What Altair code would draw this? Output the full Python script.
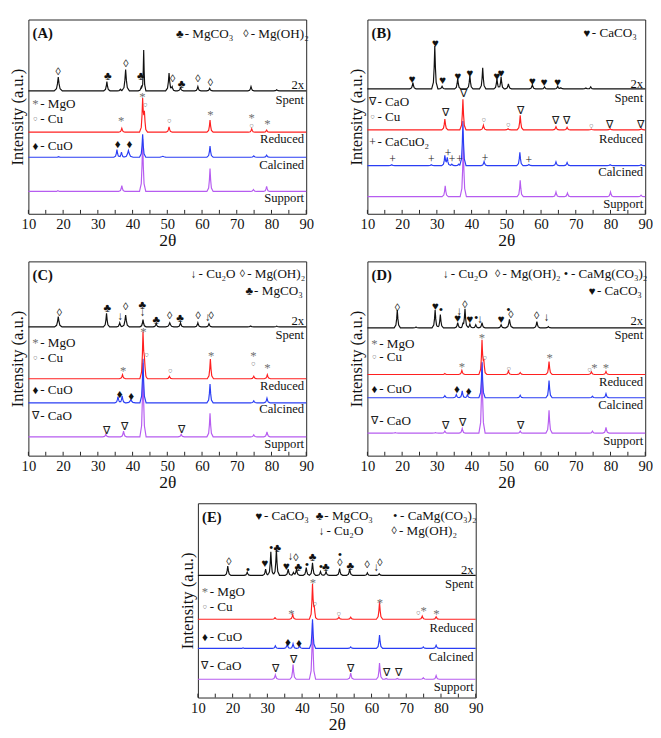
import altair as alt
import pandas as pd
import numpy as np

FONT = "Liberation Serif, Times New Roman, serif"
W, H = 286, 200

# ---------------- data: (2theta, height above baseline[, width factor]) ----------------
A_support_base = 11.5
A_support = [(18.5, 0.4), (36.9, 3.0), (42.9, 27.0), (62.3, 11.8), (74.8, 1.0), (78.6, 2.6)]
A_calcined_base = 29.1
A_calcined = [(18.7, 0.3), (35.5, 3.9), (36.8, 2.7), (38.8, 3.5, 1.5), (42.9, 11.8), (48.7, 0.5, 2),
              (62.3, 5.8), (74.9, 0.7), (78.6, 1.1)]
A_reduced_base = 42.0
A_reduced = [(36.9, 2.0), (42.9, 16.5), (43.4, 9.0), (50.5, 2.8), (62.3, 6.3), (74.3, 1.7), (78.6, 1.1)]
A_spent_base = 63.3
A_spent = [(18.6, 7.1, 1.3), (32.6, 4.7), (36.5, 0.8), (38.0, 11.0, 1.2), (42.5, 2.0), (43.2, 20.9, 0.7),
           (50.5, 9.1, 1.1), (51.4, 2.0), (53.8, 1.6), (58.8, 2.2), (62.2, 1.3), (74.1, 2.2), (81.5, 0.5)]

B_support_base = 8.8
B_support = [(32.4, 5.6), (37.6, 28.0), (54.0, 8.5), (64.3, 2.4), (67.6, 1.9), (80.0, 2.4), (88.8, 0.8)]
B_calcined_base = 24.8
B_calcined = [(17.0, 0.5), (28.4, 0.5), (32.3, 5.1), (33.0, 4.0), (34.3, 0.8), (36.3, 0.8), (37.5, 23.0),
              (43.6, 2.1), (53.9, 6.9), (56.5, 0.6), (64.3, 1.9), (67.5, 1.6), (79.9, 0.5), (88.8, 0.5)]
B_reduced_base = 43.2
B_reduced = [(32.3, 5.6), (37.5, 15.7), (43.4, 2.4), (50.5, 0.6), (54.0, 7.5), (64.3, 1.6), (67.5, 1.3),
             (74.5, 0.4), (79.9, 0.6), (88.9, 0.6)]
B_spent_base = 64.3
B_spent = [(23.1, 3.2), (29.4, 22.1), (31.5, 1.3), (36.0, 5.3), (39.5, 6.9), (43.2, 10.9), (47.3, 5.3),
           (48.5, 6.1), (50.6, 2.6), (57.5, 2.1), (61.0, 1.0), (64.8, 1.3), (65.7, 0.6), (72.9, 0.5), (74.3, 1.0)]

C_support_base = 9.7
C_support = [(32.3, 1.3), (37.4, 2.9), (43.0, 38.0), (54.0, 1.3), (62.3, 12.1), (74.9, 1.0), (78.7, 2.6)]
C_calcined_base = 27.2
C_calcined = [(35.8, 3.2), (37.0, 3.6), (39.5, 1.6, 1.5), (43.0, 22.7), (62.3, 9.7), (74.9, 1.0), (78.7, 2.4)]
C_reduced_base = 39.6
C_reduced = [(37.1, 2.1), (43.0, 23.1), (43.4, 8.0), (50.6, 1.3), (62.4, 10.2), (74.9, 1.3), (78.8, 2.1)]
C_spent_base = 66.3
C_spent = [(18.6, 5.3, 1.2), (32.5, 7.0), (36.3, 2.1), (38.0, 6.1, 1.2), (43.0, 3.7), (46.8, 1.6),
           (50.7, 2.1, 1.3), (53.8, 2.1), (58.8, 2.1), (62.0, 1.6), (74.0, 0.5), (81.5, 0.4)]

D_support_base = 11.6
D_support = [(18.0, 0.3), (29.6, 0.3), (32.3, 1.0), (37.3, 2.4), (43.0, 36.0), (54.0, 1.0), (62.3, 11.8),
             (74.8, 1.0), (78.7, 2.9)]
D_calcined_base = 29.8
D_calcined = [(32.3, 1.1), (35.6, 1.6), (37.3, 3.5), (38.8, 1.6), (43.0, 18.5), (54.0, 1.3), (62.3, 8.9),
              (74.8, 0.8), (78.7, 2.1)]
D_reduced_base = 41.8
D_reduced = [(32.3, 0.5), (37.2, 2.1), (43.0, 17.1), (43.5, 6.0), (50.6, 1.8), (54.0, 1.0), (62.3, 6.6),
             (74.5, 1.3), (78.7, 1.5)]
D_spent_base = 65.8
D_spent = [(18.6, 9.2), (24.0, 0.4), (29.5, 9.2), (31.0, 6.8), (36.0, 2.7), (37.5, 1.5), (38.1, 9.7),
           (39.5, 1.9), (41.2, 1.6), (43.0, 2.7), (48.5, 1.6), (50.9, 4.4, 1.2), (58.8, 3.2), (62.1, 0.6)]

E_support_base = 9.4
E_support = [(32.3, 2.3), (37.4, 7.6), (43.0, 29.0), (54.0, 3.2), (62.3, 8.4), (64.2, 0.4), (67.4, 0.4),
             (74.9, 0.8), (78.6, 1.9)]
E_calcined_base = 25.3
E_calcined = [(23.0, 0.3), (32.3, 1.3), (35.7, 2.1), (37.4, 2.4), (39.3, 1.3), (43.0, 15.0), (54.0, 0.8),
              (62.3, 6.9), (74.9, 0.8), (78.6, 1.6)]
E_reduced_base = 40.3
E_reduced = [(32.2, 0.8), (37.3, 2.4), (43.0, 17.7), (43.5, 5.0), (50.6, 1.1), (54.0, 1.1), (62.3, 8.9),
             (74.6, 1.6), (78.6, 1.3)]
E_spent_base = 62.9
E_spent = [(18.6, 4.8), (24.2, 1.6), (29.5, 3.2), (31.0, 12.1), (32.6, 13.2), (36.0, 3.2), (37.5, 1.5),
           (38.4, 3.2), (41.2, 4.0), (43.0, 6.5), (45.3, 1.9), (46.9, 1.9), (50.8, 3.5), (53.7, 3.2),
           (58.8, 1.3), (62.2, 0.8)]

# ---------------- peak markers (2theta, y, symbol) ----------------
A_marks = [(18.6, 72.8, "◊"), (32.9, 70.9, "♣"), (38.1, 76.9, "◊"), (42.4, 70.9, "♣"), (51.5, 69.3, "◊"),
           (54.1, 66.9, "♣"), (58.8, 69.3, "◊"), (62.4, 67.4, "◊"),
           (42.8, 60.2, "*"), (43.7, 56.2, "o"), (36.7, 47.6, "*"), (50.6, 47.9, "o"), (62.4, 50.7, "*"),
           (74.3, 49.4, "*"), (74.3, 45.3, "o"), (78.8, 46.0, "*"),
           (35.7, 35.9, "♦"), (39.1, 35.9, "♦")]
B_marks = [(22.9, 69.1, "♥"), (29.6, 87.6, "♥"), (31.7, 68.8, "♥"), (36.1, 71.0, "♥"), (39.5, 72.3, "♥"),
           (47.3, 71.0, "♥"), (48.5, 72.3, "♥"), (57.5, 68.3, "♥"), (60.9, 67.7, "♥"), (64.8, 67.7, "♥"),
           (37.6, 61.6, "∇"), (32.4, 51.7, "∇"), (54.1, 53.1, "∇"), (64.2, 47.5, "∇"), (67.3, 47.5, "∇"),
           (79.8, 45.9, "∇"), (88.5, 45.9, "∇"),
           (43.5, 48.3, "o"), (50.6, 45.9, "o"), (74.5, 45.1, "o"),
           (17.2, 28.0, "+"), (28.4, 28.0, "+"), (33.2, 31.2, "+"), (34.4, 28.0, "+"), (36.5, 28.0, "+"),
           (43.9, 28.8, "+"), (56.5, 27.7, "+")]
C_marks = [(18.9, 73.3, "◊"), (32.7, 76.1, "♣"), (36.5, 72.0, "↓"), (38.0, 76.5, "◊"), (42.8, 77.7, "♣"),
           (42.9, 73.8, "↓"), (46.8, 69.6, "♣"), (50.7, 71.7, "◊"), (53.7, 70.9, "♣"), (58.9, 71.7, "◊"),
           (61.7, 71.4, "↓"), (62.6, 71.7, "◊"),
           (43.1, 63.6, "*"), (44.0, 51.8, "o"), (37.3, 43.7, "*"), (50.9, 43.7, "o"), (62.6, 51.0, "*"),
           (74.8, 51.0, "*"), (74.8, 47.2, "o"), (78.8, 45.3, "*"),
           (36.3, 31.7, "♦"), (39.6, 30.4, "♦"),
           (32.5, 12.9, "∇"), (37.6, 14.7, "∇"), (54.1, 13.3, "∇")]
D_marks = [(18.6, 76.1, "◊"), (29.6, 77.1, "♥"), (31.2, 74.7, "•"), (36.5, 74.5, "↓"), (36.0, 71.0, "♥"),
           (38.1, 77.7, "◊"), (39.5, 70.5, "♥"), (41.3, 71.0, "•"), (42.5, 70.2, "↓"), (48.5, 70.2, "♥"),
           (50.6, 75.0, "•"), (51.3, 72.6, "◊"), (58.7, 71.8, "◊"), (61.6, 71.4, "↓"),
           (43.0, 60.5, "*"), (43.8, 50.3, "o"), (37.2, 45.5, "*"), (50.7, 44.8, "o"), (62.5, 50.3, "*"),
           (74.0, 43.9, "o"), (75.4, 45.2, "*"), (78.7, 45.2, "*"),
           (35.8, 34.2, "♦"), (39.2, 33.4, "♦"),
           (32.6, 15.3, "∇"), (37.5, 16.9, "∇"), (54.1, 15.3, "∇")]
E_marks = [(18.9, 69.7, "◊"), (24.4, 65.8, "•"), (29.3, 69.0, "♥"), (31.1, 76.9, "•"), (32.9, 76.9, "♣"),
           (36.7, 72.6, "↓"), (35.5, 67.7, "♥"), (38.2, 71.8, "◊"), (38.9, 66.9, "♣"), (41.4, 68.2, "•"),
           (43.0, 72.3, "♣"), (45.4, 66.9, "•"), (46.8, 66.9, "♣"), (50.9, 73.3, "•"), (50.9, 69.4, "◊"),
           (53.9, 67.7, "♣"), (58.7, 68.1, "◊"), (61.4, 67.3, "↓"), (62.4, 69.0, "◊"),
           (43.1, 58.9, "*"), (43.7, 48.1, "o"), (36.9, 43.2, "*"), (50.6, 43.2, "o"), (62.4, 48.7, "*"),
           (73.5, 43.4, "o"), (75.0, 44.5, "*"), (78.7, 43.1, "*"),
           (35.9, 28.7, "♦"), (39.1, 28.2, "♦"),
           (32.3, 14.5, "∇"), (37.5, 19.4, "∇"), (54.0, 14.8, "∇"), (64.3, 12.6, "∇"), (67.7, 12.6, "∇")]

# ---------------- legends (2theta, y, symbol, label) ----------------
A_legend = [(53.6, 92.5, "♣", "- MgCO₃"), (72.6, 92.5, "◊", "- Mg(OH)₂"),
            (12.0, 56.2, "*", "- MgO"), (12.0, 48.8, "o", "- Cu"), (12.0, 35.0, "♦", "- CuO")]
B_legend = [(73.2, 93.0, "♥", "- CaCO₃"), (11.5, 57.6, "∇", "- CaO"), (11.5, 49.6, "o", "- Cu"),
            (11.5, 37.1, "+", "- CaCuO₂")]
C_legend = [(57.6, 93.5, "↓", "- Cu₂O"), (71.6, 93.5, "◊", "- Mg(OH)₂"), (73.6, 84.5, "♣", "- MgCO₃"),
            (12.0, 57.9, "*", "- MgO"), (12.0, 50.3, "o", "- Cu"), (12.0, 33.7, "♦", "- CuO"),
            (12.0, 20.2, "∇", "- CaO")]
D_legend = [(32.6, 93.5, "↓", "- Cu₂O"), (47.5, 93.5, "◊", "- Mg(OH)₂"), (67.2, 93.5, "•", "- CaMg(CO₃)₂"),
            (74.7, 84.5, "♥", "- CaCO₃"),
            (12.0, 57.3, "*", "- MgO"), (12.0, 50.8, "o", "- Cu"), (12.0, 34.2, "♦", "- CuO"),
            (12.0, 17.7, "∇", "- CaO")]
E_legend = [(27.6, 93.5, "♥", "- CaCO₃"), (45.0, 93.5, "♣", "- MgCO₃"), (66.8, 93.5, "•", "- CaMg(CO₃)₂"),
            (45.6, 85.5, "↓", "- Cu₂O"), (66.5, 85.5, "◊", "- Mg(OH)₂"),
            (12.0, 54.5, "*", "- MgO"), (12.0, 46.5, "o", "- Cu"), (12.0, 31.0, "♦", "- CuO"),
            (12.0, 16.1, "∇", "- CaO")]

# ---------------- curve labels (y of "2x", Spent, Reduced, Calcined, Support) ----------------
A_labels_y = [66.0, 58.3, 38.6, 25.2, 7.9]
B_labels_y = [67.0, 59.5, 38.4, 21.6, 5.1]
C_labels_y = [69.5, 62.0, 35.6, 23.9, 5.8]
D_labels_y = [69.4, 62.1, 37.9, 25.8, 7.3]
E_labels_y = [65.5, 58.4, 35.8, 21.0, 5.2]
LABEL_TEXT = ["2x", "Spent", "Reduced", "Calcined", "Support"]

TICKS = list(range(10, 91, 5))

# ---------------- styles ----------------
CURVE_COLORS = {"Support": "#b65cf0", "Calcined": "#2a3ef4", "Reduced": "#ff2020", "Spent": "#111111"}
SYM_STYLE = {  # symbol: (glyph, color, size)
    "◊": ("◊", "#111111", 11), "♣": ("♣", "#111111", 12), "♥": ("♥", "#111111", 12),
    "♦": ("♦", "#111111", 12), "∇": ("∇", "#222222", 11), "↓": ("↓", "#222222", 12),
    "•": ("•", "#111111", 13), "+": ("+", "#222222", 12), "*": ("*", "#6f6f6f", 13),
    "o": ("○", "#5f5f5f", 8),
}
SHAPE_OFF = np.array([-0.9, -0.4, -0.18, 0.0, 0.18, 0.4, 0.9])
SHAPE_FRAC = np.array([0.0, 0.15, 0.5, 1.0, 0.5, 0.15, 0.0])


def curve_frame(base, peaks):
    xs = {10.0, 90.0}
    for p in peaks:
        wf = p[2] if len(p) > 2 else 1.0
        for o in SHAPE_OFF:
            xs.add(round(p[0] + o * wf, 3))
    xs = sorted(x for x in xs if 10 <= x <= 90)
    ys = []
    for x in xs:
        y = base
        for p in peaks:
            wf = p[2] if len(p) > 2 else 1.0
            y += p[1] * np.interp(x, p[0] + SHAPE_OFF * wf, SHAPE_FRAC, left=0.0, right=0.0)
        ys.append(y)
    return pd.DataFrame({"x": xs, "y": ys, "i": range(len(xs))})


x_scale = alt.Scale(domain=[10, 90], nice=False, zero=False)
y_scale = alt.Scale(domain=[0, 100], nice=False, zero=False)


def X():
    return alt.X("x:Q", scale=x_scale,
                 axis=alt.Axis(values=list(range(10, 91, 10)), title="2θ", ticks=False, domain=False,
                               grid=False, labelFont=FONT, labelFontSize=15, labelColor="#111",
                               labelPadding=3, titleFont=FONT, titleFontSize=18, titleFontWeight="normal",
                               titleColor="#111", titlePadding=1, labelFlush=False))


def Y():
    return alt.Y("y:Q", scale=y_scale,
                 axis=alt.Axis(labels=False, ticks=False, domain=False, grid=False,
                               title="Intensity (a.u.)", titleFont=FONT, titleFontSize=17,
                               titleFontWeight="normal", titleColor="#111", titlePadding=2))


def panel(letter, curves, marks, legend, labels_y):
    layers = []
    for name, (base, peaks) in curves.items():
        df = curve_frame(base, peaks)
        layers.append(alt.Chart(df).mark_line(strokeWidth=1.2, color=CURVE_COLORS[name])
                      .encode(x=X(), y=Y(), order="i:Q"))
    tdf = pd.DataFrame({"x": TICKS})
    layers.append(alt.Chart(tdf).mark_rule(color="#222", strokeWidth=1)
                  .encode(x=X(), y=alt.value(H), y2=alt.value(H - 4)))
    mdf = pd.DataFrame({
        "x": [m[0] for m in marks], "y": [m[1] for m in marks],
        "t": [SYM_STYLE[m[2]][0] for m in marks], "c": [SYM_STYLE[m[2]][1] for m in marks],
        "s": [SYM_STYLE[m[2]][2] for m in marks]})
    layers.append(alt.Chart(mdf).mark_text(font=FONT, baseline="middle", align="center")
                  .encode(x=X(), y=Y(), text="t:N", color=alt.Color("c:N", scale=None),
                          size=alt.Size("s:Q", scale=None)))
    ldf = pd.DataFrame({
        "x": [l[0] for l in legend], "y": [l[1] for l in legend],
        "t": [SYM_STYLE[l[2]][0] for l in legend], "c": [SYM_STYLE[l[2]][1] for l in legend],
        "s": [SYM_STYLE[l[2]][2] for l in legend], "lab": [l[3] for l in legend]})
    layers.append(alt.Chart(ldf).mark_text(font=FONT, baseline="middle", align="center")
                  .encode(x=X(), y=Y(), text="t:N", color=alt.Color("c:N", scale=None),
                          size=alt.Size("s:Q", scale=None)))
    layers.append(alt.Chart(ldf).mark_text(font=FONT, fontSize=13.5, baseline="middle", align="left",
                                           dx=5, color="#111")
                  .encode(x=X(), y=Y(), text="lab:N"))
    cdf = pd.DataFrame({"x": [89.4] * 5, "y": labels_y, "t": LABEL_TEXT})
    layers.append(alt.Chart(cdf).mark_text(font=FONT, fontSize=13, baseline="middle", align="right",
                                           color="#111")
                  .encode(x=X(), y=Y(), text="t:N"))
    pdf = pd.DataFrame({"x": [11.2], "y": [93.0], "t": [f"({letter})"]})
    layers.append(alt.Chart(pdf).mark_text(font=FONT, fontSize=15, fontWeight="bold", baseline="middle",
                                           align="left", color="#111")
                  .encode(x=X(), y=Y(), text="t:N"))
    return alt.layer(*layers).properties(width=W, height=H)


pA = panel("A", {"Support": (A_support_base, A_support), "Calcined": (A_calcined_base, A_calcined),
                 "Reduced": (A_reduced_base, A_reduced), "Spent": (A_spent_base, A_spent)},
           A_marks, A_legend, A_labels_y)
pB = panel("B", {"Support": (B_support_base, B_support), "Calcined": (B_calcined_base, B_calcined),
                 "Reduced": (B_reduced_base, B_reduced), "Spent": (B_spent_base, B_spent)},
           B_marks, B_legend, B_labels_y)
pC = panel("C", {"Support": (C_support_base, C_support), "Calcined": (C_calcined_base, C_calcined),
                 "Reduced": (C_reduced_base, C_reduced), "Spent": (C_spent_base, C_spent)},
           C_marks, C_legend, C_labels_y)
pD = panel("D", {"Support": (D_support_base, D_support), "Calcined": (D_calcined_base, D_calcined),
                 "Reduced": (D_reduced_base, D_reduced), "Spent": (D_spent_base, D_spent)},
           D_marks, D_legend, D_labels_y)
pE = panel("E", {"Support": (E_support_base, E_support), "Calcined": (E_calcined_base, E_calcined),
                 "Reduced": (E_reduced_base, E_reduced), "Spent": (E_spent_base, E_spent)},
           E_marks, E_legend, E_labels_y)

row1 = alt.hconcat(pA, pB, spacing=34)
row2 = alt.hconcat(pC, pD, spacing=34)
chart = (alt.vconcat(row1, row2, pE, spacing=10, center=True)
         .properties(padding=0, background="white")
         .configure_view(stroke="#222", strokeWidth=1)
         .configure_concat(spacing=10))

chart.save("out.html", embed_options={"renderer": "svg", "actions": False})
